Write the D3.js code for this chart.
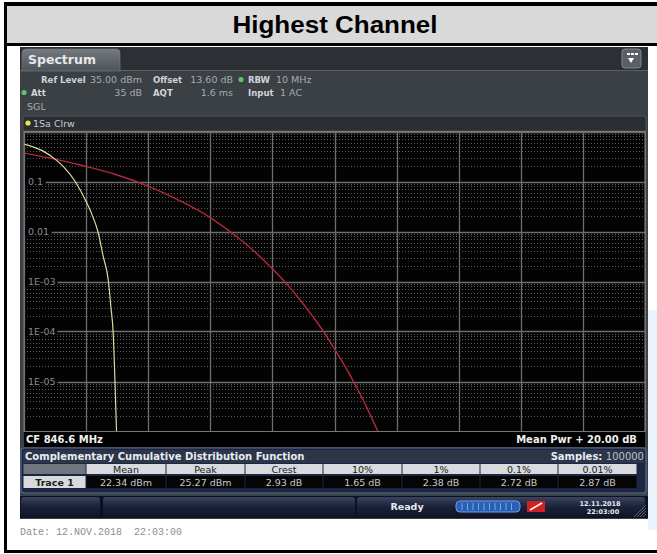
<!DOCTYPE html>
<html><head><meta charset="utf-8">
<script src="https://cdn.jsdelivr.net/npm/d3@7"></script>
<style>
html,body{margin:0;padding:0;background:#fff;}
svg{display:block;}
text{font-family:"DejaVu Sans",Verdana,sans-serif;}
</style></head>
<body><svg id="c" width="657" height="554"></svg>
<script>
// ---------- data ----------
const chartTitle = "Highest Channel";
const xDomain = [0, 20];                       // dB above mean power
const xTicks = [0, 2, 4, 6, 8, 10, 12, 14, 16, 18, 20];
const yTicks = [1, 0.1, 0.01, 1e-3, 1e-4, 1e-5, 1e-6];
const yTickLabels = ["", "0.1", "0.01", "1E-03", "1E-04", "1E-05", ""];
// measured trace (yellow): dB, probability
const traceDb   = [0, 0.3, 0.6, 1.0, 1.3, 1.65, 2.0, 2.2, 2.38, 2.55, 2.72, 2.8, 2.87, 2.93, 2.98];
const traceProb = [0.56, 0.49, 0.41, 0.28, 0.19, 0.1, 0.04, 0.021, 0.01, 0.0032, 0.001, 0.0003, 0.0001, 0.00001, 0.000001];
// gaussian reference (red): dB, probability
const gaussDb   = [0, 1, 2, 3, 4, 5, 6, 6.5, 7, 7.5, 8, 8.5, 9, 9.5, 10, 10.5, 11, 11.4];
const gaussProb = [0.37, 0.28, 0.2, 0.135, 0.081, 0.042, 0.019, 0.0115, 0.0067, 0.0036, 0.0018, 0.00084, 0.00035, 0.000135, 0.000045, 0.0000134, 0.0000034, 0.000001];
const tableHeads = ["", "Mean", "Peak", "Crest", "10%", "1%", "0.1%", "0.01%"];
const tableRow   = ["Trace 1", "22.34 dBm", "25.27 dBm", "2.93 dB", "1.65 dB", "2.38 dB", "2.72 dB", "2.87 dB"];

// ---------- frame ----------
const svg = d3.select("#c");
const defs = svg.append("defs");
svg.append("rect").attr("x",0).attr("y",0).attr("width",657).attr("height",554).attr("fill","#fff");
// title band
svg.append("rect").attr("x",7).attr("y",6).attr("width",650).attr("height",37).attr("fill","#d9d9d9");
svg.append("text").attr("x",335).attr("y",32.5).attr("text-anchor","middle")
  .attr("textLength",205).attr("lengthAdjust","spacingAndGlyphs")
  .style("font-family","'Liberation Sans',Arial,sans-serif").style("font-weight","bold").style("font-size","23px")
  .attr("fill","#000").text(chartTitle);
svg.append("rect").attr("x",4).attr("y",2).attr("width",653).attr("height",4).attr("fill","#000");
svg.append("rect").attr("x",4).attr("y",43).attr("width",653).attr("height",3).attr("fill","#000");
svg.append("rect").attr("x",4).attr("y",2).attr("width",3).attr("height",551).attr("fill","#000");
svg.append("rect").attr("x",4).attr("y",550).attr("width",653).attr("height",3).attr("fill","#000");
// pale blue reflection at right
svg.append("rect").attr("x",648).attr("y",310).attr("width",9).attr("height",220).attr("fill","#eaf3fb");

// ---------- screenshot ----------
const S = {x:20, y:47, w:628, h:472};
svg.append("rect").attr("x",S.x).attr("y",S.y).attr("width",S.w).attr("height",S.h).attr("fill","#3b4045");
svg.append("rect").attr("x",S.x).attr("y",S.y).attr("width",S.w).attr("height",23).attr("fill","#2c3034");
svg.append("line").attr("x1",S.x).attr("x2",S.x+S.w).attr("y1",70.5).attr("y2",70.5).attr("stroke","#5a6066");
// tab
const tg = defs.append("linearGradient").attr("id","tabg").attr("x1",0).attr("y1",0).attr("x2",0).attr("y2",1);
tg.append("stop").attr("offset","0").attr("stop-color","#737a80");
tg.append("stop").attr("offset","1").attr("stop-color","#4d5358");
svg.append("path").attr("d","M22,71 L22,53 Q22,49 26,49 L116,49 Q120,49 120,53 L120,71 Z").attr("fill","url(#tabg)").attr("stroke","#7c8288").attr("stroke-width",0.6);
svg.append("text").attr("x",28).attr("y",64).attr("fill","#e8e8e8").style("font-size","12.5px").style("font-weight","bold").text("Spectrum");
// right icon
svg.append("rect").attr("x",622).attr("y",49).attr("width",19).attr("height",19).attr("rx",3).attr("fill","#5a6065").attr("stroke","#80868b");
[627,631,635].forEach(x=>svg.append("rect").attr("x",x).attr("y",53).attr("width",3).attr("height",2).attr("fill","#fff"));
svg.append("path").attr("d","M628,58 L634,58 L631,63 Z").attr("fill","#fff");

// info text
const info = [
  {x:41,y:83,t:"Ref Level",b:true},{x:142,y:83,t:"35.00 dBm",a:"end"},
  {x:153,y:83,t:"Offset",b:true},{x:233,y:83,t:"13.60 dB",a:"end"},
  {x:248,y:83,t:"RBW",b:true},{x:276,y:83,t:"10 MHz"},
  {x:31,y:96,t:"Att",b:true},{x:142,y:96,t:"35 dB",a:"end"},
  {x:153,y:96,t:"AQT",b:true},{x:233,y:96,t:"1.6 ms",a:"end"},
  {x:248,y:96,t:"Input",b:true},{x:280,y:96,t:"1 AC"},
  {x:27,y:110,t:"SGL"}
];
info.forEach(d=>svg.append("text").attr("x",d.x).attr("y",d.y).attr("text-anchor",d.a||"start").attr("fill",d.b?"#d0d4d8":"#a6abb0")
  .style("font-size","9.5px").style("font-family",d.b?"'DejaVu Sans Condensed','DejaVu Sans',sans-serif":"'DejaVu Sans',sans-serif")
  .style("font-weight",d.b?"bold":"normal").text(d.t));
[[241,79.5],[24,92.5]].forEach(p=>svg.append("circle").attr("cx",p[0]).attr("cy",p[1]).attr("r",2.6).attr("fill","#5fc36a"));

// trace header bar
svg.append("path").attr("d","M23,131 L23,119 Q23,116 26,116 L643,116 Q646,116 646,119 L646,131 Z").attr("fill","#2a2e32").attr("stroke","#555b60").attr("stroke-width",0.8);
svg.append("circle").attr("cx",28).attr("cy",123).attr("r",2.6).attr("fill","#e6e64a");
svg.append("text").attr("x",33).attr("y",127).attr("fill","#c8ccd0").style("font-size","9.5px").text("1Sa Clrw");

// ---------- plot ----------
const P = {l:24, r:645, t:131.5, b:431.5};
svg.append("rect").attr("x",P.l).attr("y",P.t).attr("width",P.r-P.l).attr("height",P.b-P.t).attr("fill","#030303");
const x = d3.scaleLinear().domain(xDomain).range([P.l, P.r]);
const y = d3.scaleLog().domain([1, 1e-6]).range([P.t, P.b]);
const g = svg.append("g");
// minor dotted horizontal lines
const minors = [];
for (let e = 0; e < 6; e++) for (let m = 2; m <= 9; m++) minors.push(m * Math.pow(10, -e-1));
g.selectAll("line.minor").data(minors).join("line")
  .attr("x1",P.l).attr("x2",P.r).attr("y1",d=>Math.round(y(d))+0.5).attr("y2",d=>Math.round(y(d))+0.5)
  .attr("stroke","#5c5c5c").attr("stroke-width",1).attr("stroke-dasharray","1,2");
// major grid
g.selectAll("line.vx").data(xTicks).join("line")
  .attr("x1",d=>Math.round(x(d))+0.5).attr("x2",d=>Math.round(x(d))+0.5).attr("y1",P.t).attr("y2",P.b)
  .attr("stroke","#6e6e6e").attr("stroke-width",1.3);
g.selectAll("line.hy").data(yTicks).join("line")
  .attr("x1",P.l).attr("x2",P.r).attr("y1",d=>Math.round(y(d))+0.5).attr("y2",d=>Math.round(y(d))+0.5)
  .attr("stroke","#6e6e6e").attr("stroke-width",1.3);
// y labels
yTicks.forEach((v,i)=>{
  if(!yTickLabels[i]) return;
  const w = yTickLabels[i].length*5.9+3;
  g.append("rect").attr("x",P.l+1).attr("y",y(v)-5).attr("width",w).attr("height",10).attr("fill","#030303");
  g.append("text").attr("x",P.l+4).attr("y",y(v)+3.5).attr("fill","#8c8c8c").style("font-size","9.5px").text(yTickLabels[i]);
});
// traces
svg.append("clipPath").attr("id","pc").append("rect").attr("x",P.l).attr("y",P.t).attr("width",P.r-P.l).attr("height",P.b-P.t);
const line = d3.line().x(d=>x(d[0])).y(d=>y(d[1])).curve(d3.curveMonotoneX);
svg.append("path").attr("clip-path","url(#pc)").attr("d",line(gaussDb.map((d,i)=>[d,gaussProb[i]])))
  .attr("fill","none").attr("stroke","#b0283a").attr("stroke-width",1.4);
svg.append("path").attr("clip-path","url(#pc)").attr("d",line(traceDb.map((d,i)=>[d,traceProb[i]])))
  .attr("fill","none").attr("stroke","#dcdca0").attr("stroke-width",1.2);
svg.append("rect").attr("x",P.l).attr("y",P.t).attr("width",P.r-P.l).attr("height",P.b-P.t).attr("fill","none").attr("stroke","#777").attr("stroke-width",1);

// bottom bar
svg.append("rect").attr("x",P.l).attr("y",432).attr("width",P.r-P.l).attr("height",15).attr("fill","#000");
svg.append("text").attr("x",26).attr("y",443).attr("fill","#f0f0f0").style("font-size","10px").style("font-weight","bold").text("CF 846.6 MHz");
svg.append("text").attr("x",637).attr("y",443).attr("text-anchor","end").attr("fill","#f0f0f0").style("font-size","10px").style("font-weight","bold").text("Mean Pwr + 20.00 dB");

// ---------- table panel ----------
svg.append("rect").attr("x",21).attr("y",448).attr("width",625).attr("height",45).attr("rx",3).attr("fill","#1c2640").attr("stroke","#4f6a92").attr("stroke-width",1.2);
svg.append("rect").attr("x",23).attr("y",450).attr("width",621).attr("height",13).attr("fill","#2d3546");
svg.append("text").attr("x",25).attr("y",460).attr("fill","#e6ecf4").style("font-size","10px").style("font-weight","bold").text("Complementary Cumulative Distribution Function");
const sm = svg.append("text").attr("x",644).attr("y",460).attr("text-anchor","end").style("font-size","10px");
sm.append("tspan").attr("fill","#e6ecf4").style("font-weight","bold").text("Samples: ");
sm.append("tspan").attr("fill","#b8c0ca").text("100000");
const colEdges = [23, 86, 166, 245, 323, 402, 480, 558, 637];
tableHeads.forEach((h,i)=>{
  const x0 = colEdges[i], x1 = colEdges[i+1];
  svg.append("rect").attr("x",x0+0.5).attr("y",464).attr("width",x1-x0-1).attr("height",10).attr("fill", i===0?"#70767e":"#d8dade");
  svg.append("text").attr("x",(x0+x1)/2).attr("y",472.5).attr("text-anchor","middle").attr("fill","#1a1a1a").style("font-size","9.5px").text(h);
  svg.append("rect").attr("x",x0+0.5).attr("y",476).attr("width",x1-x0-1).attr("height",12).attr("fill", i===0?"#d8dade":"#050505");
  svg.append("text").attr("x",(x0+x1)/2).attr("y",485.5).attr("text-anchor","middle")
    .attr("fill", i===0?"#1a1a1a":"#c8c8c8").style("font-size","9.5px").style("font-weight",i===0?"bold":"normal").text(tableRow[i]);
});

// ---------- status bar ----------
const sg = defs.append("linearGradient").attr("id","sbg").attr("x1",0).attr("y1",0).attr("x2",0).attr("y2",1);
sg.append("stop").attr("offset","0").attr("stop-color","#3a4460");
sg.append("stop").attr("offset","0.5").attr("stop-color","#1a2138");
sg.append("stop").attr("offset","1").attr("stop-color","#101626");
svg.append("rect").attr("x",20).attr("y",496).attr("width",628).attr("height",22).attr("fill","#0c1020");
svg.append("rect").attr("x",21).attr("y",497).attr("width",79).attr("height",20).attr("rx",3).attr("fill","url(#sbg)");
svg.append("rect").attr("x",103).attr("y",497).attr("width",252).attr("height",20).attr("rx",3).attr("fill","url(#sbg)");
svg.append("rect").attr("x",357).attr("y",497).attr("width",288).attr("height",20).attr("rx",3).attr("fill","url(#sbg)");
svg.append("text").attr("x",407).attr("y",510).attr("text-anchor","middle").attr("fill","#e8ecf2").style("font-size","9.5px").style("font-weight","bold").text("Ready");
svg.append("rect").attr("x",456).attr("y",501).attr("width",64).attr("height",11).attr("rx",4).attr("fill","#2a5fb8").attr("stroke","#6ea0e8");
d3.range(10).forEach(i=>svg.append("line").attr("x1",462+i*5.5).attr("x2",462+i*5.5).attr("y1",503).attr("y2",510).attr("stroke","#8cb8f0").attr("stroke-width",0.8));
svg.append("rect").attr("x",527).attr("y",501).attr("width",18).attr("height",11).attr("fill","#d02020");
svg.append("path").attr("d","M530,510 L542,503").attr("stroke","#fff").attr("stroke-width",1.5);
svg.append("text").attr("x",600).attr("y",506).attr("text-anchor","middle").attr("fill","#e8ecf2").style("font-size","6.5px").style("font-weight","bold").text("12.11.2018");
svg.append("text").attr("x",603).attr("y",514).attr("text-anchor","middle").attr("fill","#e8ecf2").style("font-size","6.5px").style("font-weight","bold").text("22:03:00");
d3.range(5).forEach(i=>svg.append("line").attr("x1",634+i*3).attr("x2",646).attr("y1",517).attr("y2",505+i*3).attr("stroke","#8890a0").attr("stroke-width",0.6));

// date line
svg.append("text").attr("x",20).attr("y",535).attr("fill","#8e8e8e").style("font-family","'Liberation Mono','DejaVu Sans Mono',monospace").style("font-size","10px").attr("xml:space","preserve").text("Date: 12.NOV.2018  22:03:00");
</script></body></html>
